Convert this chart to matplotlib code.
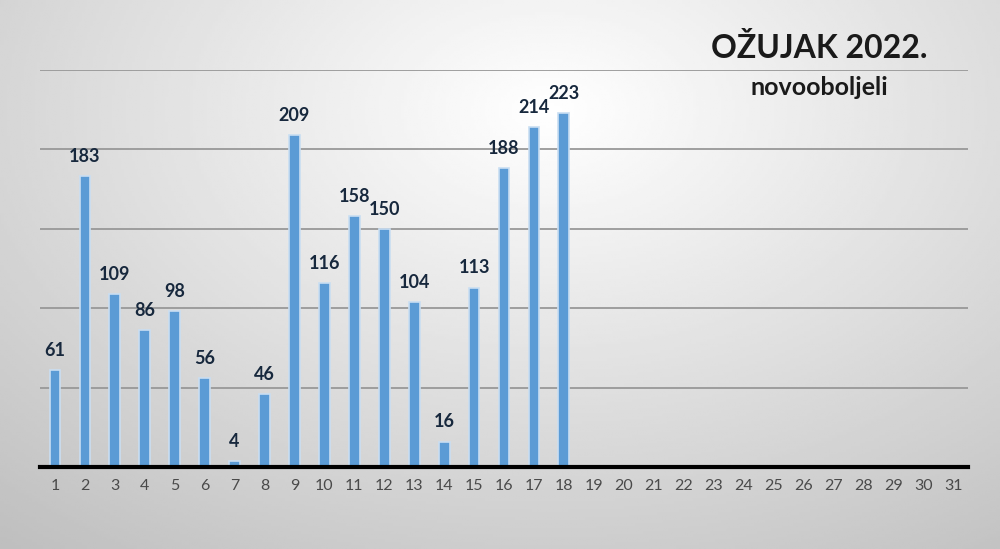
import numpy as np
import matplotlib.pyplot as plt

days = list(range(1, 32))
values = [61, 183, 109, 86, 98, 56, 4, 46, 209, 116, 158, 150, 104, 16,
          113, 188, 214, 223]
title = 'OŽUJAK 2022.'
subtitle = 'novooboljeli'

plt.rcParams['font.family'] = ['Lato', 'DejaVu Sans']

fig = plt.figure(figsize=(10, 5.49), dpi=100)

# gray gradient background, lighter near the upper middle
bg = fig.add_axes([0, 0, 1, 1])
yy, xx = np.mgrid[0:1:200j, 0:1:360j]
d = np.sqrt(((xx - 0.55) / 0.75) ** 2 + ((yy - 0.2) / 0.9) ** 2)
shade = 1.0 - 0.22 * np.clip(d, 0, 1.3)
bg.imshow(shade, cmap='gray', vmin=0, vmax=1, aspect='auto',
          extent=[0, 1, 1, 0])
bg.set_xlim(0, 1)
bg.set_ylim(1, 0)
bg.axis('off')

ax = fig.add_axes([0.040, 0.1494, 0.928, 0.7231])
ax.patch.set_alpha(0)
ax.set_xlim(0.5, 31.5)
ax.set_ylim(0, 250)

ax.bar(days[:len(values)], values, width=0.36, color='#5b9bd5',
       edgecolor='#c9def2', linewidth=1.2, zorder=3)
for d_, v in zip(days, values):
    ax.text(d_, v + 7, str(v), ha='center', va='bottom', fontsize=13,
            fontweight='bold', color='#17283d', zorder=4)

ax.set_yticks([50, 100, 150, 200, 250])
ax.yaxis.grid(True, color='#989898', linewidth=1.3, zorder=0)
ax.tick_params(axis='y', left=False, labelleft=False)
ax.set_xticks(days)
ax.set_xticklabels([str(d_) for d_ in days], fontsize=11.5, color='#4a4a4a')
ax.tick_params(axis='x', length=0, pad=9)
for s in ['top', 'left', 'right']:
    ax.spines[s].set_visible(False)
ax.spines['bottom'].set_color('black')
ax.spines['bottom'].set_linewidth(3)
ax.spines['bottom'].set_zorder(5)

fig.text(0.819, 0.912, title, ha='center', va='center', fontsize=23,
         fontweight='bold', color='#1a1a1a')
fig.text(0.819, 0.840, subtitle, ha='center', va='center', fontsize=18,
         fontweight='bold', color='#1a1a1a')

fig.savefig('out.png', dpi=100)
